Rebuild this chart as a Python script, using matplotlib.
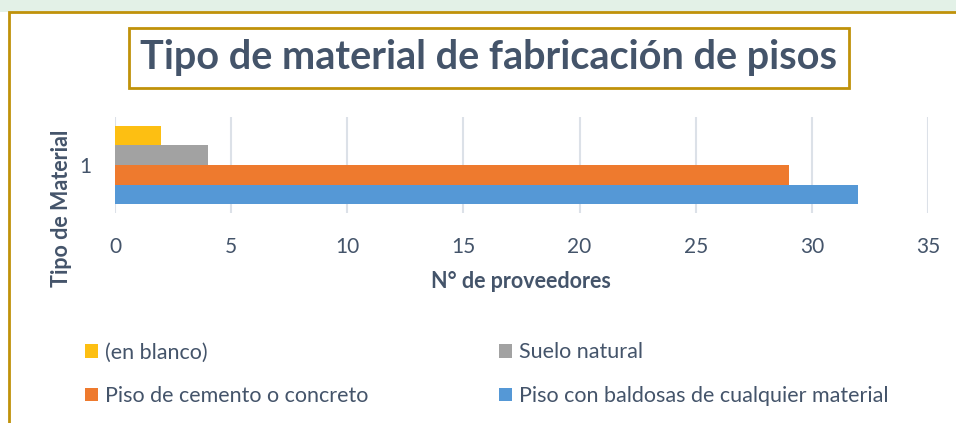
import matplotlib
matplotlib.use("Agg")
import matplotlib.pyplot as plt
from matplotlib.patches import Rectangle, Patch

# datos
categorias = ["(en blanco)", "Suelo natural", "Piso de cemento o concreto",
              "Piso con baldosas de cualquier material"]
valores = [2, 4, 29, 32]
colores = ["#FDBF12", "#A2A2A2", "#EE7A2E", "#5598D6"]
offsets = [0.3, 0.1, -0.1, -0.3]
xticks = [0, 5, 10, 15, 20, 25, 30, 35]

plt.rcParams['font.family'] = ['Lato', 'DejaVu Sans']
texto = "#44546A"
oro = "#C0920A"

W, H = 956, 423
fig = plt.figure(figsize=(W / 100, H / 100), dpi=100)
fig.patch.set_facecolor("white")

# franja superior (fondo de la diapositiva) y marco
fig.patches.append(Rectangle((0, 1 - 12 / H), 1, 12 / H, transform=fig.transFigure,
                             facecolor="#E3F1E7", edgecolor="none", zorder=0))
fig.patches.append(Rectangle((9 / W, -0.1), 1.2, 1 - 12 / H + 0.1, transform=fig.transFigure,
                             facecolor="white", edgecolor=oro, lw=2, zorder=1))

ax = fig.add_axes([115 / W, 1 - 213 / H, (928 - 115) / W, 96 / H])
ax.set_zorder(5)
ax.set_facecolor("none")
for c, v, col, off in zip(categorias, valores, colores, offsets):
    ax.barh(1 + off, v, height=0.2, color=col, label=c, zorder=3)

ax.set_xlim(0, 35)
ax.set_ylim(1 - 0.49, 1 + 0.49)
ax.set_xticks(xticks)
ax.set_yticks([1])
ax.set_yticklabels(["1"])
ax.grid(axis="x", color="#DCE1E8", lw=1.5, zorder=0)
for s in ax.spines.values():
    s.set_visible(False)
ax.tick_params(axis="x", length=0, pad=17, labelsize=15, labelcolor=texto)
ax.tick_params(axis="y", length=0, pad=17, labelsize=15, labelcolor=texto)

fig.text(521 / W, 1 - 282 / H, "N° de proveedores", ha="center", va="center",
         fontsize=15.5, fontweight="bold", color=texto, zorder=6)
fig.text(62 / W, 1 - 208 / H, "Tipo de Material", ha="center", va="center",
         rotation=90, fontsize=15.5, fontweight="bold", color=texto, zorder=6)

fig.text(489 / W, 1 - 58 / H, "Tipo de material de fabricación de pisos",
         ha="center", va="center", fontsize=28.5, fontweight="bold", color=texto, zorder=6,
         bbox=dict(boxstyle="square,pad=0.3", facecolor="white", edgecolor=oro, lw=2))

handles = [Patch(facecolor=colores[i], label=categorias[i]) for i in [0, 2, 1, 3]]
leg = fig.legend(handles=handles, ncol=2, loc="upper left",
                 bbox_to_anchor=(66 / W, 1 - 323 / H), frameon=False,
                 fontsize=15.5, handlelength=0.6, handleheight=0.6,
                 handletextpad=0.3, columnspacing=6.1, labelspacing=1.1)
leg.set_zorder(6)
for t in leg.get_texts():
    t.set_color(texto)

fig.savefig("out.png", dpi=100)
